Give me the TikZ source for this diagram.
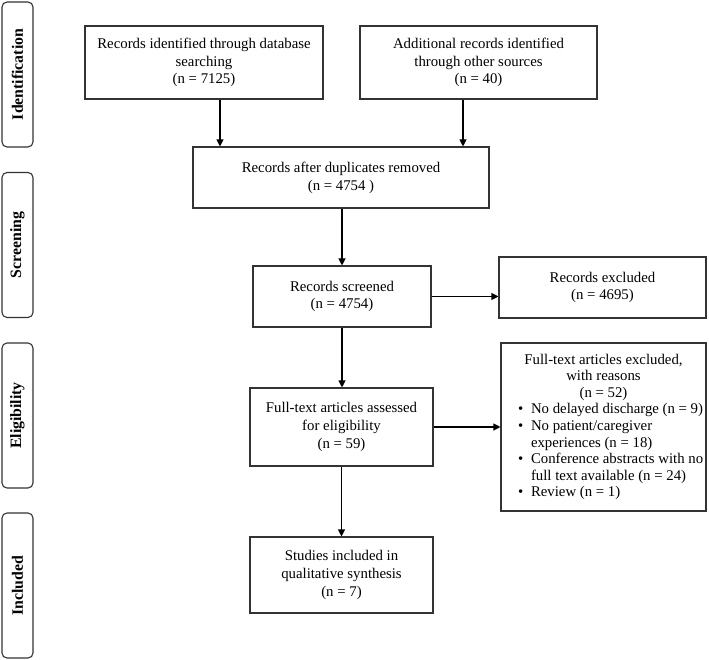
\documentclass[tikz,border=0pt]{standalone}
\usepackage{fontspec}
\setmainfont{Liberation Serif}
\usetikzlibrary{arrows.meta}
\newcommand{\ctrline}[1]{\makebox[205pt][c]{#1}}
\newcommand{\bulline}[1]{\makebox[205pt][l]{\hspace{17pt}\makebox[13pt][l]{\textbullet}#1}}
\newcommand{\contline}[1]{\makebox[205pt][l]{\hspace{30pt}#1}}
\begin{document}
\begin{tikzpicture}[x=1pt,y=-1pt,
  box/.style={draw=black!80, line width=1.1pt, align=center, inner sep=0pt,
    font=\fontsize{14.8}{17.8}\selectfont},
  side/.style={draw=black!80, line width=1.1pt, rounded corners=5pt, inner sep=0pt,
    minimum width=31pt, minimum height=145pt},
  sidetext/.style={rotate=90, font=\fontsize{15.8}{18}\selectfont\bfseries},
  arr/.style={line width=1.1pt, -{Triangle[length=7pt,width=7pt]}}]
\useasboundingbox (0,0) rectangle (709,660);
% side labels
\node[side] (sid) at (17.5,74.5) {};
\node[sidetext] (sidt) at (sid.center) {Identification};
\node[side] (sscr) at (17.5,245) {};
\node[sidetext] (sscrt) at (sscr.center) {Screening};
\node[side] (selig) at (17.5,415.5) {};
\node[sidetext] (seligt) at (selig.center) {Eligibility};
\node[side] (sinc) at (17.5,585.5) {};
\node[sidetext] (sinct) at (sinc.center) {Included};
% boxes
\node[box, minimum width=238pt, minimum height=73pt] (id1) at (204,62.5)
  {Records identified through database\\searching\\(n = 7125)};
\node[box, minimum width=237pt, minimum height=73pt] (id2) at (478.5,62.5)
  {Additional records identified\\through other sources\\(n = 40)};
\node[box, minimum width=296pt, minimum height=61pt] (dup) at (341,177.5)
  {Records after duplicates removed\\(n = 4754 )};
\node[box, minimum width=178pt, minimum height=61pt] (scr) at (342,296.5)
  {Records screened\\(n = 4754)};
\node[box, minimum width=207pt, minimum height=61pt] (exc) at (602.5,287.5)
  {Records excluded\\(n = 4695)};
\node[box, minimum width=183pt, minimum height=78pt] (full) at (341.5,427)
  {Full-text articles assessed\\for eligibility\\(n = 59)};
\node[box, minimum width=205pt, minimum height=168pt, align=left,
  font=\fontsize{14.8}{16.6}\selectfont] (fexc) at (603.5,427)
  {\ctrline{Full-text articles excluded,}\\
   \ctrline{with reasons}\\
   \ctrline{(n = 52)}\\
   \bulline{No delayed discharge (n = 9)}\\
   \bulline{No patient/caregiver}\\
   \contline{experiences (n = 18)}\\
   \bulline{Conference abstracts with no}\\
   \contline{full text available (n = 24)}\\
   \bulline{Review (n = 1)}};
\node[box, minimum width=183pt, minimum height=76pt] (incl) at (341.5,575)
  {Studies included in\\qualitative synthesis\\(n = 7)};
% connectors
\draw[arr] ([xshift=16pt]id1.south) -- ([xshift=16pt]id1.south |- dup.north);
\draw[arr] ([xshift=-15.5pt]id2.south) -- ([xshift=-15.5pt]id2.south |- dup.north);
\draw[arr] (scr.north |- dup.south) -- (scr.north);
\draw[arr] (scr.east) -- (scr.east -| exc.west);
\draw[arr] (scr.south) -- (scr.south |- full.north);
\draw[arr] (full.east) -- (full.east -| fexc.west);
\draw[arr] (full.south) -- (full.south |- incl.north);
\end{tikzpicture}
\end{document}
